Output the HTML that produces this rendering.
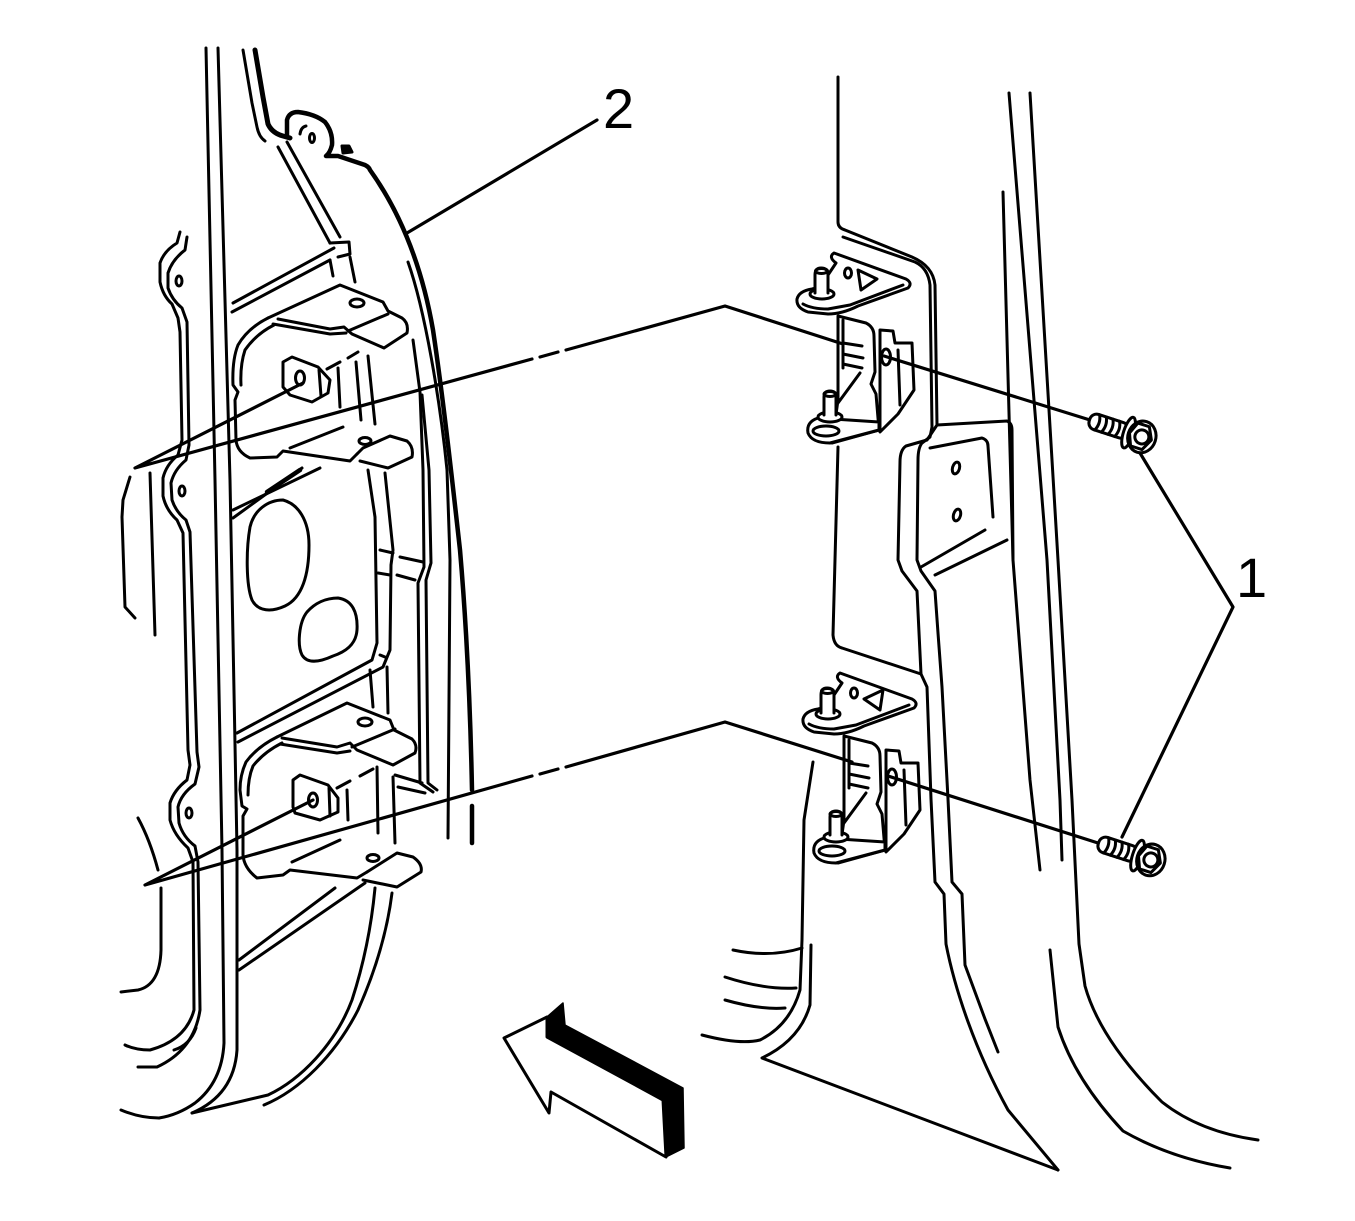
<!DOCTYPE html>
<html><head><meta charset="utf-8"><style>
html,body{margin:0;padding:0;background:#fff;}
svg{display:block;}
text{font-family:"Liberation Sans",Arial,sans-serif;}
</style></head><body>
<svg width="1355" height="1221" viewBox="0 0 1355 1221" xmlns="http://www.w3.org/2000/svg">
<rect width="1355" height="1221" fill="#fff"/>
<g fill="none" stroke="#000" stroke-width="3" stroke-linejoin="round" stroke-linecap="round">

<!-- ===== LEFT DOOR ===== -->
<path d="M206,48 L215,480 L222,850 L224,1043 Q222,1082 195,1103 Q178,1115 159,1118"/>
<path d="M218,48 L230,480 L237,850 L237,1050 Q234,1095 192,1113"/>
<path d="M121,1110 Q140,1118 159,1118"/>
<path d="M192,1113 L268,1095 C300,1080 335,1045 352,1000 C365,960 372,920 375,888"/>
<path d="M264,1105 C300,1090 335,1055 358,1010 C378,965 388,925 392,893"/>

<!-- flange -->
<path d="M180,232 L177,243 Q164,251 160,263 L160,282 Q163,296 172,304 L178,318 L180,332 L182,440 L178,455 Q166,465 163,478 L163,496 Q166,510 177,520 L183,533 L188,750 L190,765 L187,780 Q174,790 170,803 L170,820 Q174,835 188,848 L193,862 L194,1010 Q186,1040 150,1050 Q135,1050 125,1045"/>
<path d="M187,237 L185,250 Q172,260 168,273 L168,288 Q172,300 182,308 L187,322 L189,445 L186,460 Q174,470 171,483 L172,500 Q176,512 186,520 L190,532 L197,752 L199,767 L195,784 Q181,794 178,807 L179,823 Q183,837 195,846 L198,862 L200,1010 Q194,1050 157,1067 L138,1067"/>
<path d="M196,1028 Q190,1045 174,1050"/>
<ellipse cx="179" cy="281" rx="3" ry="5"/>
<ellipse cx="182" cy="491" rx="3" ry="5"/>
<ellipse cx="189" cy="813" rx="3" ry="5"/>

<!-- far left -->
<path d="M130,477 L123,500 L122,517 L125,607 L135,618"/>
<path d="M150,473 L155,635"/>
<path d="M138,818 Q150,840 158,870"/>
<path d="M161,888 L161,950 Q160,985 138,990 L121,992"/>

<!-- seal and top bracket -->
<path stroke-width="5" d="M255,50 L263,97 L268,124 Q272,133 283,136 L290,138"/>
<path stroke-width="4.5" d="M287,136 L287,120 Q289,112 298,112 Q315,114 325,122 Q333,132 332,145 Q330,153 326,156 L338,156 Q350,160 365,165 Q369,167 370,170 C395,205 420,255 433,330 C442,390 450,460 460,550 C466,620 470,690 472,790"/>
<path stroke-width="4.5" d="M472,806 L472,843"/>
<path d="M243,50 L252,103 L257,127 Q259,137 265,141"/>
<ellipse cx="312" cy="138" rx="2.5" ry="4.5"/>
<path d="M300,134 Q301,127 306,126"/>
<path fill="#000" d="M342,146 L349,146 L352,152 L343,153 Z"/>
<path d="M408,262 C425,310 440,400 447,470 L450,560 L448,838"/>
<path d="M413,340 L420,392 L423,470 L424,567 L418,583 L420,783 L433,792"/>
<path d="M422,395 L429,470 L431,563 L426,580 L428,783 L437,790"/>

<!-- diagonals/tab -->
<path d="M278,147 L330,243"/>
<path d="M287,142 L340,237"/>
<path d="M330,243 L349,242 L350,254 L338,257"/>
<path d="M334,248 L233,303"/>
<path d="M330,260 L232,312"/>
<path d="M330,260 L333,276"/>
<path d="M350,257 L355,282"/>

<!-- upper door bracket -->
<path d="M268,318 L340,285 L383,302 L388,311 L402,318 Q409,323 407,333 L384,348 L352,334 L344,327 L330,329 L278,319"/>
<path d="M273,324 L330,334 L346,333"/>
<path d="M348,331 L388,314"/>
<ellipse cx="357" cy="303" rx="7" ry="4"/>
<path d="M268,318 Q248,328 238,345 Q232,360 233,385 L238,392 L235,400 L236,440 Q237,452 250,458 L277,457 L283,451 L350,461 L357,454"/>
<path d="M274,325 Q256,334 245,350 Q240,365 241,385"/>
<path d="M357,454 L363,448 L390,436 L407,441 Q414,447 412,457 L388,468 L360,461"/>
<ellipse cx="365" cy="441" rx="6" ry="3.5"/>
<path d="M290,448 L343,427"/>
<path fill="#fff" d="M283,362 L292,357 L318,367 L330,380 L328,393 L312,402 L290,395 L283,387 Z"/>
<path d="M319,370 L321,396"/>
<ellipse cx="300" cy="378" rx="4.5" ry="7"/>
<path d="M327,369 L340,362"/>
<path d="M348,358 L358,352"/>
<path d="M356,362 L361,420"/>
<path d="M368,356 L375,424"/>
<path d="M338,368 L340,407"/>

<!-- inner panel -->
<path d="M233,510 L320,468"/>
<path d="M233,518 L302,468"/>
<path stroke-width="4.5" d="M267,492 L300,470"/>
<path d="M283,500 C298,504 309,520 309,545 C309,575 302,598 285,606 C272,612 258,612 252,600 C246,585 246,550 250,527 C254,510 268,500 283,500 Z"/>
<path d="M338,598 C352,600 358,612 357,630 C356,645 345,652 333,656 C322,661 308,665 302,655 C297,645 299,622 307,612 C315,603 326,598 338,598 Z"/>
<path d="M368,470 L375,517 L377,643 L372,660 L237,733"/>
<path d="M385,473 L393,550 L391,565 L390,650 L383,667 L238,742"/>
<path d="M380,550 L393,553"/>
<path d="M378,573 L390,575"/>
<path d="M380,655 L385,657"/>
<path d="M400,557 L423,562"/>
<path d="M397,575 L415,580"/>

<!-- lower door bracket -->
<path d="M277,737 L347,703 L390,720 L394,730 L412,739 Q418,745 415,753 L393,765 L357,750 L350,743 L337,747 L282,738"/>
<path d="M280,744 L337,753 L350,751"/>
<path d="M352,747 L395,729"/>
<ellipse cx="365" cy="722" rx="7" ry="4"/>
<path d="M277,737 Q257,747 246,762 Q240,775 240,790 L242,806 L247,809 L243,816 L243,855 Q244,868 257,878 L283,875 L290,870 L357,878 L367,872"/>
<path d="M282,743 Q264,752 253,766 Q248,778 248,795"/>
<path d="M367,872 L397,853 L413,857 Q423,864 421,872 L397,887 L363,880"/>
<ellipse cx="373" cy="858" rx="6" ry="3.5"/>
<path d="M292,862 L340,840"/>
<path fill="#fff" d="M293,780 L300,775 L328,785 L338,798 L338,812 L320,820 L295,813 L293,807 Z"/>
<path d="M329,788 L330,816"/>
<ellipse cx="313" cy="800" rx="4.5" ry="7"/>
<path d="M337,788 L350,781"/>
<path d="M360,776 L373,769"/>
<path d="M370,670 L373,707"/>
<path d="M387,667 L388,713"/>
<path d="M377,767 L378,833"/>
<path d="M393,777 L395,843"/>
<path d="M347,790 L348,820"/>
<path d="M395,775 L422,783"/>
<path d="M398,787 L425,793"/>
<path d="M239,960 L335,888"/>
<path d="M239,970 L365,883"/>

<!-- ===== RIGHT PILLAR ===== -->
<path d="M838,77 L838,222 Q838,228 845,230 L912,257 Q933,266 935,285 L937,425 L927,440 L906,446 Q900,450 900,462 L898,560 L902,571 L917,591 L921,674 L927,687 L931,799 L935,882 L944,894 L946,944 C955,990 975,1050 1008,1110 L1058,1170"/>
<path d="M843,237 L915,262 Q928,268 930,285 L932,427 L930,437 L922,443 Q918,448 918,460 L917,560 L921,571 L935,591 L938,633 L942,687 L948,799 L952,882 L962,894 L965,965 L985,1019 L998,1052"/>
<path d="M937,425 L1007,421 Q1012,423 1012,430 L1013,560"/>
<path d="M930,448 L982,438 Q988,440 988,446 L993,517"/>
<ellipse cx="956" cy="468" rx="3.5" ry="6" transform="rotate(15 956 468)"/>
<ellipse cx="957" cy="515" rx="3.5" ry="6" transform="rotate(15 957 515)"/>
<path d="M921,567 L985,530"/>
<path d="M935,575 L1007,540"/>
<path d="M1009,93 L1047,560 L1060,800 L1062,860"/>
<path d="M1030,93 L1058,560 L1072,800 L1079,944 L1085,986 Q1100,1040 1162,1102 Q1200,1132 1258,1140"/>
<path d="M1003,192 L1013,560 L1030,780 L1040,870"/>
<path d="M1050,950 L1058,1027 Q1075,1080 1123,1131 Q1170,1158 1230,1168"/>
<path d="M838,447 L833,635 Q834,646 842,648 L921,674"/>
<path d="M702,1035 Q740,1045 760,1040 Q790,1025 800,990 L802,940 L804,820 L813,762"/>
<path d="M811,945 L810,1005 Q800,1040 762,1058 L1058,1170"/>
<path d="M733,950 Q770,958 802,948"/>
<path d="M725,977 Q765,990 796,988"/>
<path d="M725,1000 Q760,1010 785,1008"/>

<!-- ===== HINGES ===== -->
<g>
<path fill="#fff" d="M834,253 L906,279 Q913,283 908,288 L858,306 Q842,314 828,314 L808,312 Q796,308 797,299 Q799,291 812,289 L820,287 L836,263 Q828,257 834,253 Z"/>
<path d="M803,304 Q812,309 828,309 L850,305 L903,285"/>
<ellipse cx="822" cy="294" rx="12" ry="5" fill="#fff"/>
<path fill="#fff" d="M815,293 L815,275 Q815,268 821,268 Q828,268 828,275 L828,293"/>
<ellipse cx="821.5" cy="271" rx="6" ry="2.5"/>
<ellipse cx="848" cy="273" rx="3.5" ry="5" stroke-width="3"/>
<path stroke-width="3" d="M858,270 L877,279 L861,290 Z"/>
<path fill="#fff" d="M838,316 L866,323 Q874,327 874,336 L875,372 L871,384 L876,394 L879,430 L832,443 L838,400 Z"/>
<path d="M843,320 L843,368"/>
<path d="M843,343 L862,346"/>
<path d="M843,354 L863,358"/>
<path d="M843,364 L862,368"/>
<path d="M860,373 L838,403"/>
<path fill="#fff" d="M880,330 L893,331 L895,343 L912,343 L914,390 L898,414 L880,432 Z"/>
<path d="M898,350 L900,405"/>
<ellipse cx="886" cy="357" rx="4.5" ry="8" fill="#fff"/>
<path fill="#fff" d="M818,418 Q806,422 808,433 Q812,443 830,443 L879,430 L879,422 Z"/>
<ellipse cx="826" cy="431" rx="13" ry="5"/>
<ellipse cx="830" cy="417" rx="12" ry="5" fill="#fff"/>
<path fill="#fff" d="M824,415 L824,397 Q824,391 830,391 Q836,391 836,397 L836,415"/>
<ellipse cx="830" cy="394" rx="6" ry="2.5"/>
</g>
<g transform="translate(6,420)">
<path fill="#fff" d="M834,253 L906,279 Q913,283 908,288 L858,306 Q842,314 828,314 L808,312 Q796,308 797,299 Q799,291 812,289 L820,287 L836,263 Q828,257 834,253 Z"/>
<path d="M803,304 Q812,309 828,309 L850,305 L903,285"/>
<ellipse cx="822" cy="294" rx="12" ry="5" fill="#fff"/>
<path fill="#fff" d="M815,293 L815,275 Q815,268 821,268 Q828,268 828,275 L828,293"/>
<ellipse cx="821.5" cy="271" rx="6" ry="2.5"/>
<ellipse cx="848" cy="273" rx="3.5" ry="5" stroke-width="3"/>
<path stroke-width="3" d="M877,270 L858,279 L874,290 Z"/>
<path fill="#fff" d="M838,316 L866,323 Q874,327 874,336 L875,372 L871,384 L876,394 L879,430 L832,443 L838,400 Z"/>
<path d="M843,320 L843,368"/>
<path d="M843,343 L862,346"/>
<path d="M843,354 L863,358"/>
<path d="M843,364 L862,368"/>
<path d="M860,373 L838,403"/>
<path fill="#fff" d="M880,330 L893,331 L895,343 L912,343 L914,390 L898,414 L880,432 Z"/>
<path d="M898,350 L900,405"/>
<ellipse cx="886" cy="357" rx="4.5" ry="8" fill="#fff"/>
<path fill="#fff" d="M818,418 Q806,422 808,433 Q812,443 830,443 L879,430 L879,422 Z"/>
<ellipse cx="826" cy="431" rx="13" ry="5"/>
<ellipse cx="830" cy="417" rx="12" ry="5" fill="#fff"/>
<path fill="#fff" d="M824,415 L824,397 Q824,391 830,391 Q836,391 836,397 L836,415"/>
<ellipse cx="830" cy="394" rx="6" ry="2.5"/>
</g>

<!-- ===== LEADER / AXIS LINES ===== -->
<path stroke-width="3.2" d="M303,383 L135,468 L532,359"/>
<path stroke-width="3.2" d="M540,357 L558,352"/>
<path stroke-width="3.2" d="M566,350 L725,306 L843,344"/>
<path stroke-width="3.2" d="M884,356 L1090,420"/>
<path stroke-width="3.2" d="M313,800 L145,885 L532,776"/>
<path stroke-width="3.2" d="M540,774 L558,769"/>
<path stroke-width="3.2" d="M566,767 L725,722 L852,762"/>
<path stroke-width="3.2" d="M888,776 L1098,843"/>
<path stroke-width="3.2" d="M407,233 L597,120"/>
<path stroke-width="3.2" d="M1140,453 L1233,607 L1122,837"/>

<!-- ===== BOLTS ===== -->
<g transform="translate(1139,436) rotate(18)">
<rect x="-52" y="-8" width="40" height="16" rx="7" fill="#fff"/>
<path d="M-44,-8 Q-40,0 -44,8 M-37,-8 Q-33,0 -37,8 M-30,-8 Q-26,0 -30,8 M-23,-8 Q-19,0 -23,8"/>
<ellipse cx="-11" cy="0" rx="5" ry="16" fill="#fff"/>
<ellipse cx="3" cy="0" rx="14" ry="16" fill="#fff"/>
<polygon points="-5,-12 7,-12 13,0 7,12 -5,12 -10,0"/>
<circle cx="3" cy="0" r="7"/>
</g>
<g transform="translate(1148,859) rotate(18)">
<rect x="-52" y="-8" width="40" height="16" rx="7" fill="#fff"/>
<path d="M-44,-8 Q-40,0 -44,8 M-37,-8 Q-33,0 -37,8 M-30,-8 Q-26,0 -30,8 M-23,-8 Q-19,0 -23,8"/>
<ellipse cx="-11" cy="0" rx="5" ry="16" fill="#fff"/>
<ellipse cx="3" cy="0" rx="14" ry="16" fill="#fff"/>
<polygon points="-5,-12 7,-12 13,0 7,12 -5,12 -10,0"/>
<circle cx="3" cy="0" r="7"/>
</g>

<!-- ===== ARROW ===== -->
<path fill="#000" stroke-width="1.5" d="M547,1017 L563,1003 L565,1025 L683,1088 L684,1148 L666,1157 L663,1100 L547,1037 Z"/>
<path fill="#fff" stroke-width="3" d="M504,1038 L547,1017 L547,1037 L663,1100 L666,1157 L551,1092 L549,1113 Z"/>
</g>

<text x="603" y="128" font-size="56" fill="#000">2</text>
<text x="1236" y="597" font-size="56" fill="#000">1</text>
</svg>
</body></html>
